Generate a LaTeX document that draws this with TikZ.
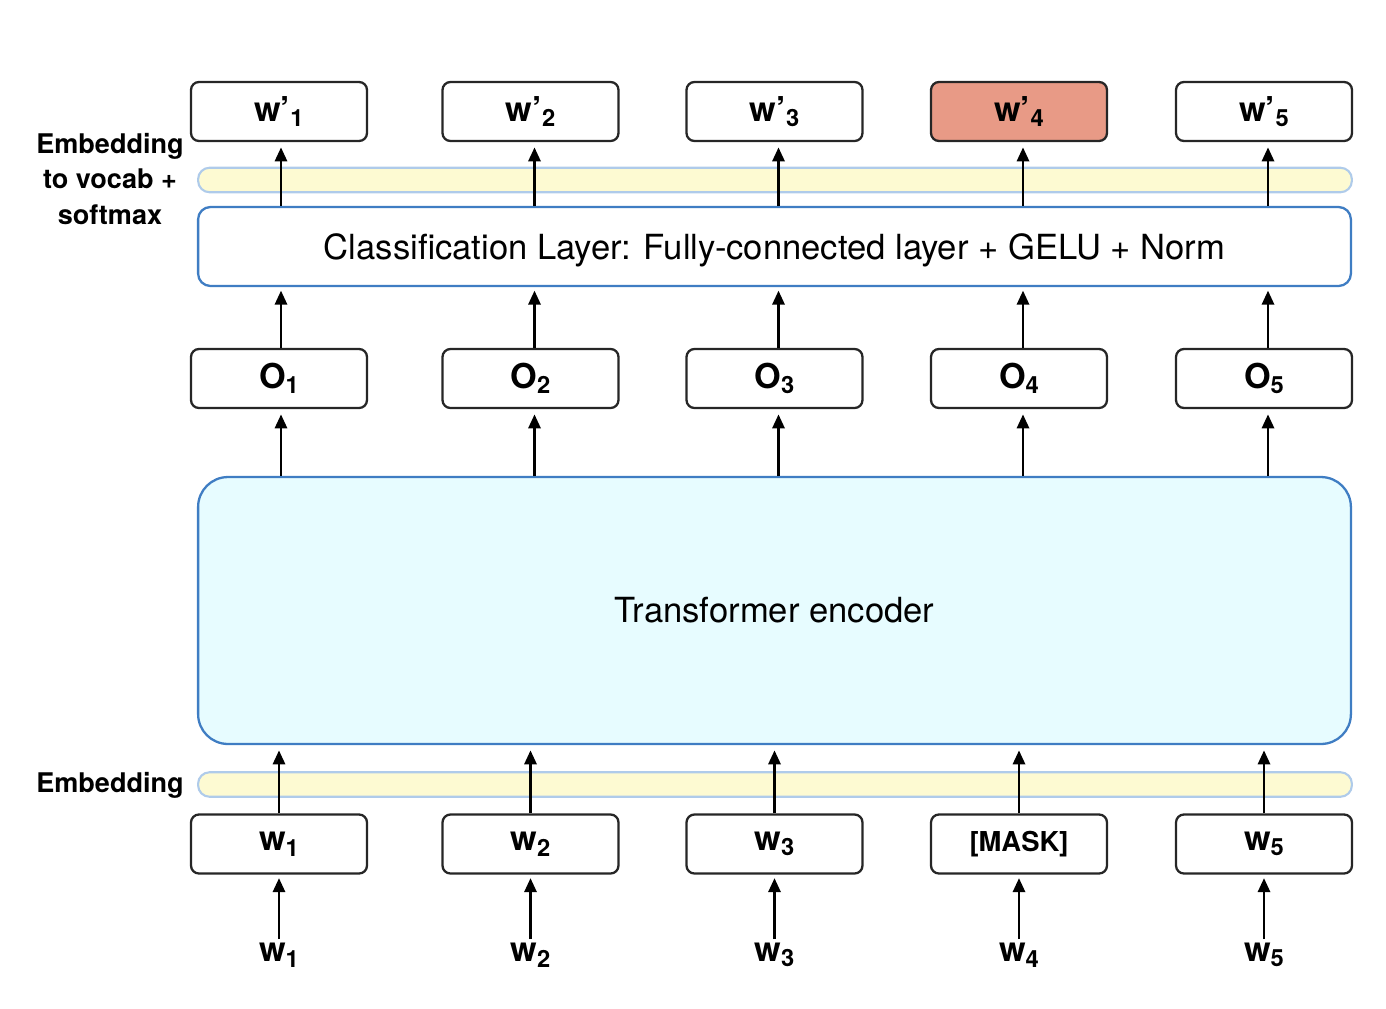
\documentclass[tikz,border=0pt]{standalone}
\usepackage{fontspec}
\setmainfont{TeX Gyre Heros}
\usetikzlibrary{arrows.meta}
\definecolor{layerblue}{HTML}{3F7DC3}
\definecolor{barfill}{HTML}{FDFAD2}
\definecolor{barline}{HTML}{AFCBEA}
\definecolor{encfill}{HTML}{E7FCFF}
\definecolor{maskfill}{HTML}{E89A86}
\newcommand{\sbs}[1]{\raisebox{-0.3ex}{\fontsize{13.5}{13.5}\selectfont #1}}
\begin{document}
\begin{tikzpicture}[x=0.02cm,y=-0.02cm,
  tokbox/.style={draw=black!85,line width=1.3pt,rounded corners=4.5pt,fill=white,
    minimum width=3.52cm,minimum height=1.18cm,inner sep=0pt,
    font=\fontsize{19.5}{19.5}\selectfont\bfseries},
  bar/.style={draw=barline,line width=1.2pt,fill=barfill,rounded corners=6.5pt,
    minimum width=23.08cm,minimum height=0.49cm,inner sep=0pt},
  layer/.style={draw=layerblue,line width=1.3pt,inner sep=0pt},
  layertext/.style={font=\fontsize{19.7}{19.7}\selectfont,inner sep=0pt},
  inlabel/.style={font=\fontsize{19.5}{19.5}\selectfont\bfseries,inner sep=2pt},
  sidelabel/.style={font=\fontsize{15.4}{20}\selectfont\bfseries,align=center},
  arr/.style={line width=1.35pt,-{Triangle[width=7pt,length=8pt]}}]
\useasboundingbox (0,0) rectangle (1386,1008);

% embedding bars
\node[bar] (topbar) at (775,180) {};
\node[bar] (botbar) at (775,784.5) {};

% classification head and encoder
\node[layer,fill=white,rounded corners=7pt,minimum width=23.06cm,minimum height=1.58cm]
  (cls) at (774.5,246.5) {};
\node[layertext] (clstext) at ([yshift=-0.07cm]cls.center)
  {Classification Layer: Fully-connected layer + GELU + Norm};
\node[layer,fill=encfill,rounded corners=17pt,minimum width=23.06cm,minimum height=5.34cm]
  (enc) at (774.5,610.5) {};
\node[layertext] (enctext) at (enc.center) {Transformer encoder};

% side labels
\node[sidelabel] (lblhead) at (110,179) {Embedding\\to vocab +\\softmax};
\node[sidelabel] (lblemb) at (110,785) {Embedding};

% token columns
\foreach \i/\x/\mid in {1/279/w\sbs{1},2/530.5/w\sbs{2},3/774.5/w\sbs{3},4/1019/{\fontsize{15.6}{15.6}\selectfont [MASK]},5/1264/w\sbs{5}}{
  \node[tokbox] (in\i) at (\x,844) {\mid};
  \node[inlabel] (w\i) at (\x,955) {w\sbs{\i}};
  \node[tokbox] (o\i) at (\x,378.5) {O\sbs{\i}};
}
\node[tokbox] (t1) at (279,111.5) {w’\sbs{1}};
\node[tokbox] (t2) at (530.5,111.5) {w’\sbs{2}};
\node[tokbox] (t3) at (774.5,111.5) {w’\sbs{3}};
\node[tokbox,fill=maskfill] (t4) at (1019,111.5) {w’\sbs{4}};
\node[tokbox] (t5) at (1264,111.5) {w’\sbs{5}};

% connectors
\foreach \i/\dx in {1/2,2/4,3/4,4/4,5/4}{
  \draw[arr,shorten >=3pt] ([xshift=\dx*0.02cm]cls.north -| t\i.south) -- ([xshift=\dx*0.02cm]t\i.south);
  \draw[arr,shorten >=2pt] ([xshift=\dx*0.02cm]o\i.north) -- ([xshift=\dx*0.02cm]cls.south -| o\i.north);
  \draw[arr,shorten >=3pt] ([xshift=\dx*0.02cm]enc.north -| o\i.south) -- ([xshift=\dx*0.02cm]o\i.south);
  \draw[arr,shorten >=3pt] (in\i.north) -- (enc.south -| in\i.north);
  \draw[arr,shorten >=2pt] (w\i.north) -- (in\i.south);
}
\end{tikzpicture}
\end{document}
